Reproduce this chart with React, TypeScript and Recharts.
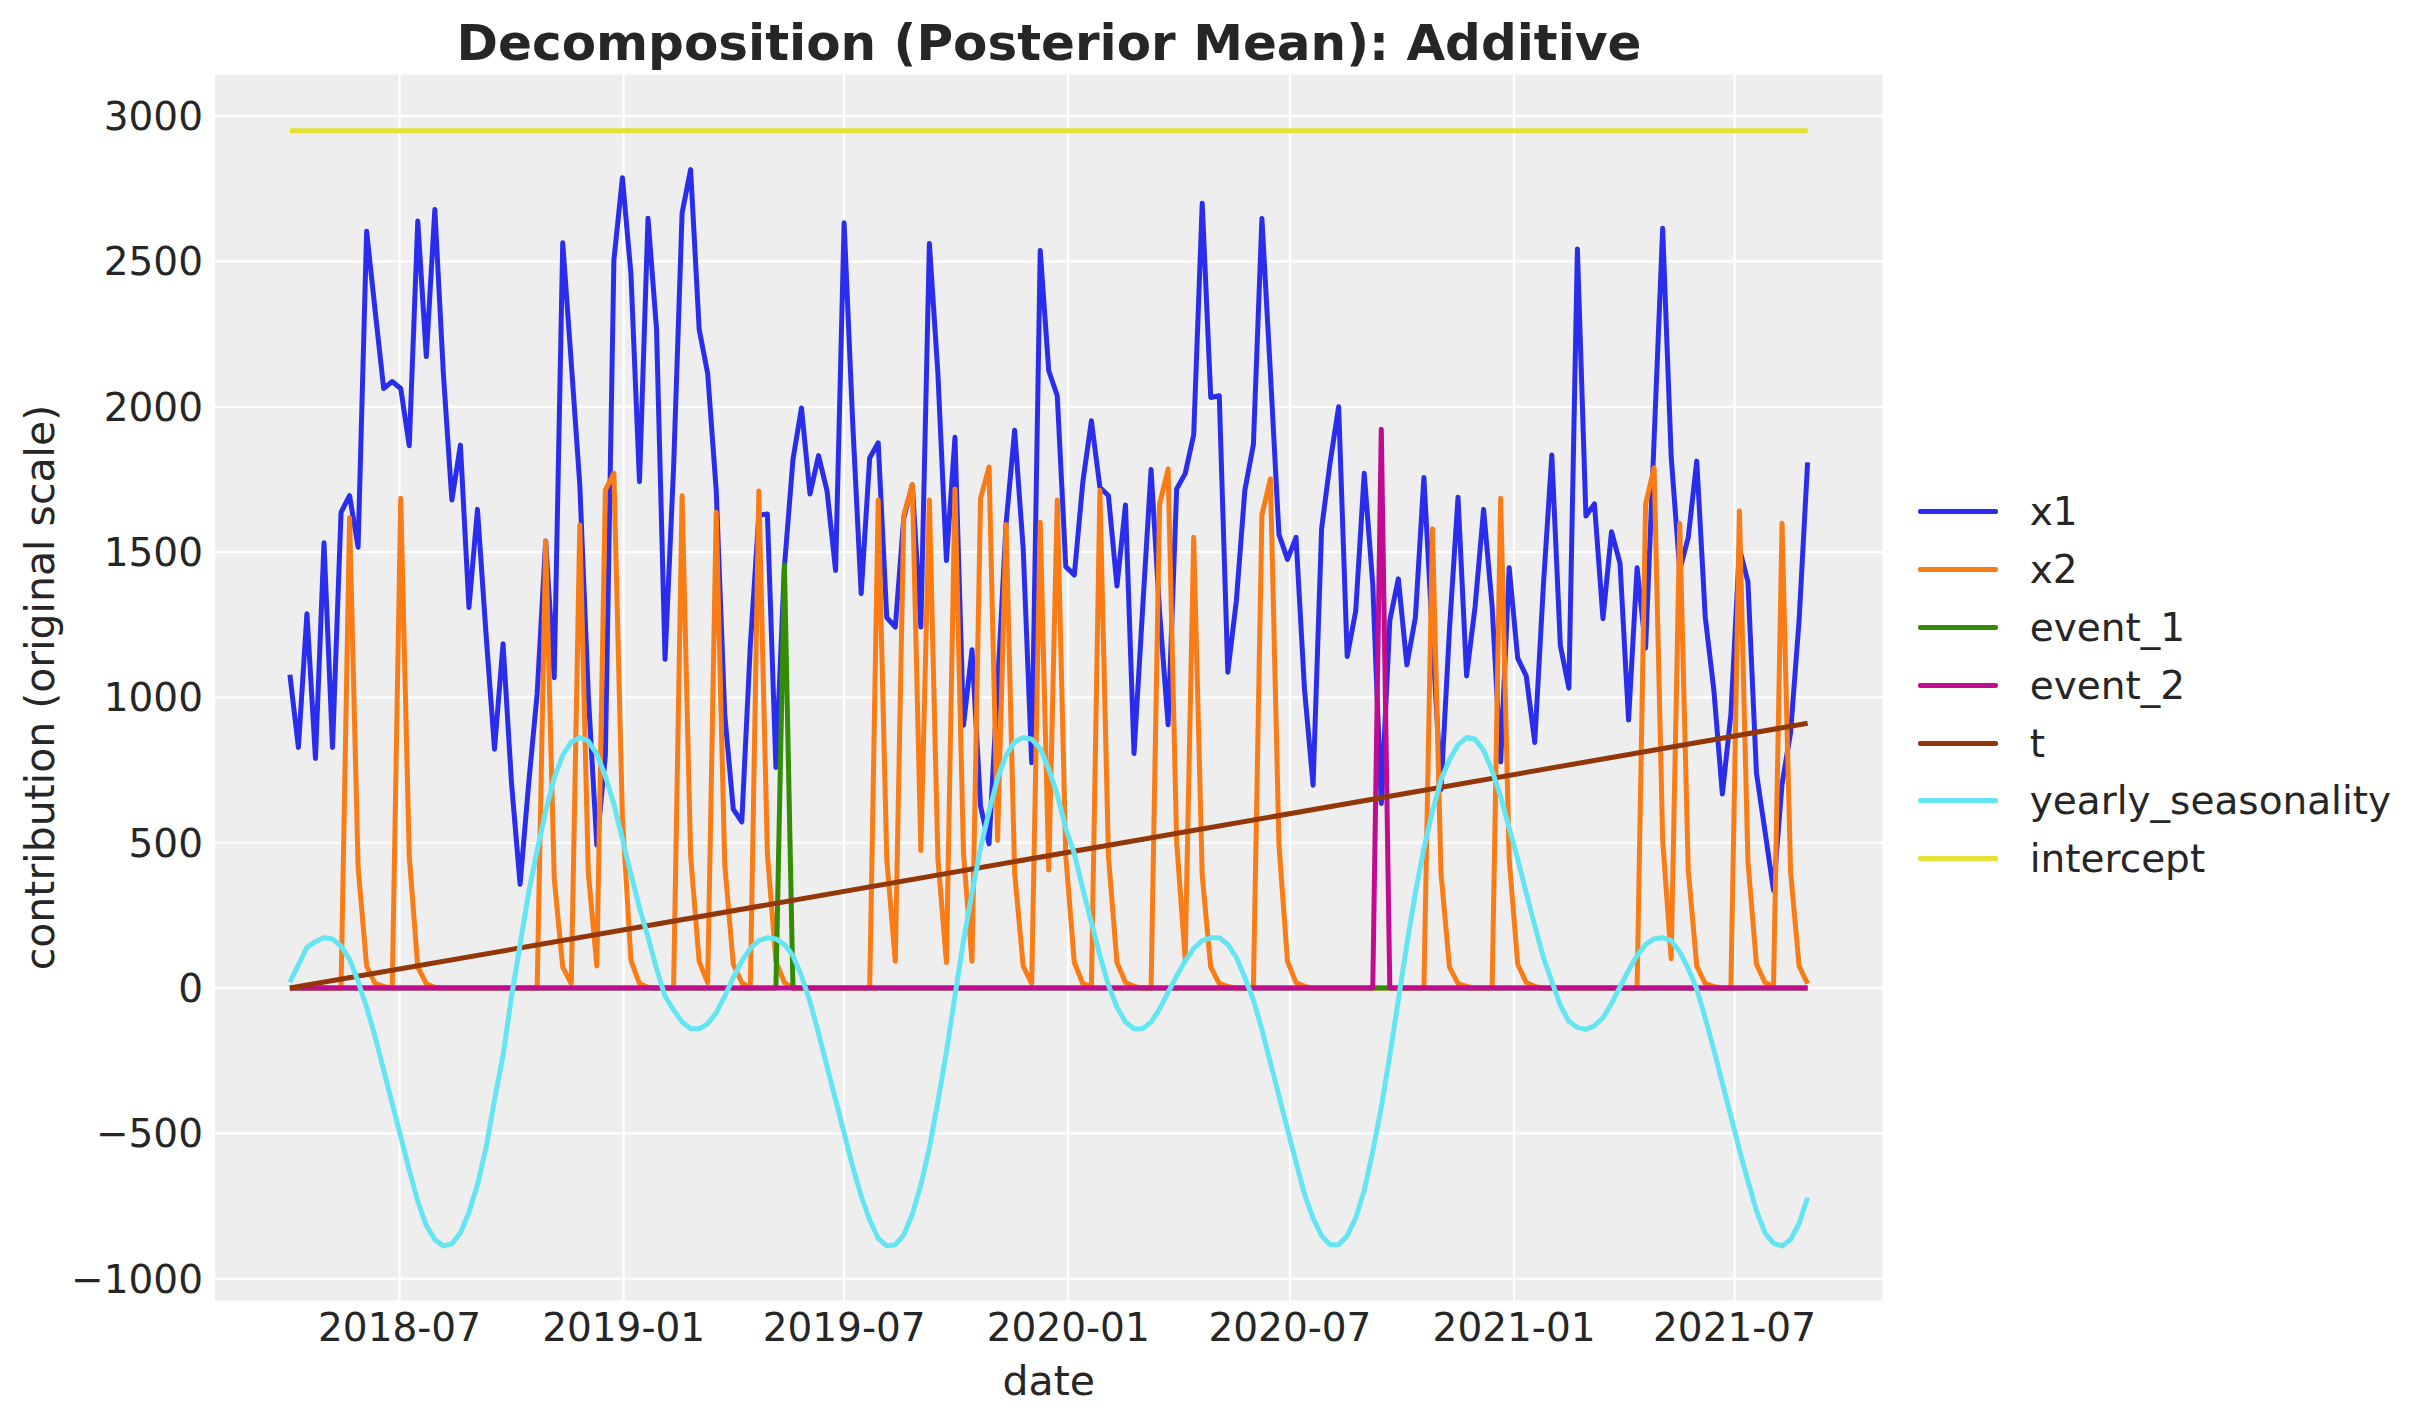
import React from 'react';
import { LineChart, Line, XAxis, YAxis, CartesianGrid, Legend, Label } from 'recharts';

// ---------- data ----------
const START_DATE = '2018-04-02'; // first weekly observation (Mondays)
const WEEK_COUNT = 179;

const x1Values = [
  1078, 828, 1288, 790, 1532, 828, 1637, 1694, 1517, 2604,
  2330, 2063, 2087, 2063, 1866, 2639, 2173, 2679, 2114, 1679,
  1868, 1309, 1647, 1220, 822, 1185, 702, 357, 702, 1013,
  1538, 1068, 2564, 2152, 1732, 1007, 492, 800, 2505, 2788,
  2457, 1742, 2649, 2267, 1131, 1790, 2667, 2816, 2267, 2114,
  1713, 941, 616, 572, 1179, 1627, 1631, 759, 1450, 1818,
  1996, 1700, 1832, 1710, 1437, 2633, 1950, 1357, 1824, 1876,
  1275, 1242, 1618, 1732, 1242, 2562, 2114, 1471, 1895, 904,
  1164, 626, 496, 1040, 1599, 1919, 1513, 775, 2538, 2124,
  2038, 1450, 1421, 1742, 1952, 1723, 1694, 1383, 1662, 807,
  1300, 1784, 1293, 906, 1717, 1770, 1904, 2700, 2032, 2038,
  1087, 1332, 1713, 1870, 2648, 2114, 1561, 1475, 1551, 1026,
  698, 1580, 1809, 2000, 1141, 1297, 1771, 1389, 635, 1265,
  1408, 1112, 1275, 1757, 1210, 683, 1236, 1689, 1074, 1312,
  1647, 1313, 778, 1446, 1135, 1074, 845, 1380, 1834, 1179,
  1032, 2543, 1624, 1666, 1271, 1570, 1461, 922, 1446, 1170,
  1890, 2614, 1828, 1437, 1551, 1813, 1275, 1026, 668, 941,
  1513, 1398, 740, 540, 336, 702, 878, 1265, 1809,
];

const x2Values = [
  0, 0, 0, 0, 0, 0, 0, 1618, 416, 76,
  15, 6, 0, 1685, 454, 72, 15, 3, 0, 0,
  0, 0, 0, 0, 0, 0, 0, 0, 0, 0,
  1538, 378, 72, 15, 1593, 397, 76, 1713, 1771, 588,
  95, 15, 3, 0, 0, 0, 1694, 454, 92, 19,
  1637, 425, 82, 19, 0, 1710, 464, 92, 19, 0,
  0, 0, 0, 0, 0, 0, 0, 0, 0, 1679,
  445, 92, 1627, 1732, 473, 1679, 445, 88, 1717, 464,
  92, 1685, 1793, 508, 1595, 397, 76, 15, 1603, 406,
  1679, 454, 88, 15, 6, 1713, 454, 88, 19, 6,
  0, 0, 1666, 1786, 502, 101, 1551, 387, 72, 15,
  6, 0, 0, 0, 1628, 1752, 492, 92, 19, 6,
  0, 0, 0, 0, 0, 0, 0, 0, 0, 0,
  0, 0, 0, 0, 1580, 397, 72, 15, 6, 0,
  0, 0, 1685, 445, 82, 19, 6, 0, 0, 0,
  0, 0, 0, 0, 0, 0, 0, 0, 0, 1666,
  1790, 511, 101, 1599, 406, 76, 15, 6, 0, 0,
  1641, 435, 82, 19, 6, 1599, 401, 76, 15,
];

const seasonalityValues = [
  20, 80, 140, 160, 173, 169, 144, 99, 23, -66,
  -168, -282, -397, -511, -626, -734, -817, -865, -887, -880,
  -842, -772, -677, -550, -384, -232, -28, 150, 328, 474,
  608, 722, 801, 847, 862, 850, 805, 729, 633, 513,
  392, 277, 176, 67, -28, -75, -117, -140, -140, -123,
  -85, -28, 36, 93, 137, 163, 173, 169, 150, 112,
  42, -47, -155, -270, -384, -499, -613, -715, -798, -861,
  -887, -883, -849, -778, -677, -550, -390, -219, -28, 163,
  328, 481, 608, 722, 801, 847, 862, 856, 824, 754,
  665, 551, 462, 341, 226, 112, 10, -66, -117, -140,
  -140, -117, -72, -15, 42, 93, 137, 163, 173, 173,
  150, 106, 36, -41, -142, -257, -371, -486, -600, -709,
  -791, -852, -883, -883, -852, -791, -696, -562, -410, -232,
  -41, 150, 328, 481, 608, 716, 786, 837, 862, 856,
  818, 748, 659, 551, 443, 328, 214, 106, 23, -60,
  -114, -136, -142, -130, -102, -53, 4, 61, 112, 150,
  169, 173, 163, 125, 67, -3, -104, -212, -327, -441,
  -556, -664, -766, -842, -878, -887, -865, -810, -721,
];

// sparse series: [week index, value]
const event1Points: [number, number][] = [[0, 0], [57, 0], [58, 1456], [59, 0], [178, 0]];
const event2Points: [number, number][] = [[0, 0], [127, 0], [128, 1923], [129, 0], [178, 0]];
const trendPoints: [number, number][] = [[0, 0], [178, 911]];
const interceptPoints: [number, number][] = [[0, 2950], [178, 2950]];

const seriesOrder = ['x1', 'x2', 'event_1', 'event_2', 't', 'yearly_seasonality', 'intercept'];
const xTickDates = ['2018-07-01', '2019-01-01', '2019-07-01', '2020-01-01', '2020-07-01', '2021-01-01', '2021-07-01'];
const yTicks = [-1000, -500, 0, 500, 1000, 1500, 2000, 2500, 3000];
const yDomain: [number, number] = [-1079, 3147];

// ---------- styles ----------
const FONT = '"DejaVu Sans", sans-serif';
const TEXT = '#262626';
const LINE_W = 5;
const COLORS: Record<string, string> = {
  x1: '#2a2eec',
  x2: '#fa7c17',
  event_1: '#328c06',
  event_2: '#c10c90',
  t: '#933708',
  yearly_seasonality: '#65e5f3',
  intercept: '#e6e135',
};

const WEEK_MS = 7 * 86400000;
const startMs = Date.parse(START_DATE);
const dateOf = (week: number) => startMs + week * WEEK_MS;

const weeklyRows = x1Values.slice(0, WEEK_COUNT).map((v, i) => ({
  date: dateOf(i),
  x1: v,
  x2: x2Values[i],
  yearly_seasonality: seasonalityValues[i],
}));
const toRows = (pts: [number, number][]) => pts.map(([w, v]) => ({ date: dateOf(w), value: v }));

const firstMs = dateOf(0);
const lastMs = dateOf(WEEK_COUNT - 1);
const span = lastMs - firstMs;
const xDomain: [number, number] = [firstMs - 0.05 * span, lastMs + 0.05 * span];
const xTicks = xTickDates.map((d) => Date.parse(d));

const fmtDate = (ms: number) => new Date(ms).toISOString().slice(0, 7);
const fmtY = (v: number) => (v < 0 ? '\u2212' + Math.abs(v) : String(v));

const renderLegend = (props: any) => {
  const payload = [...(props.payload || [])].sort(
    (a: any, b: any) => seriesOrder.indexOf(a.value) - seriesOrder.indexOf(b.value)
  );
  return (
    <div style={{ fontFamily: FONT }}>
      {payload.map((entry: any) => (
        <div key={entry.value} style={{ height: 57.8, display: 'flex', alignItems: 'center' }}>
          <div style={{ width: 80.7, height: LINE_W, background: COLORS[entry.value] || entry.color, borderRadius: 2 }} />
          <span style={{ marginLeft: 31.4, fontSize: 39, lineHeight: '39px', color: TEXT, whiteSpace: 'nowrap' }}>
            {entry.value}
          </span>
        </div>
      ))}
    </div>
  );
};

const XLabel = (props: any) => {
  const vb = props.viewBox || {};
  return (
    <text x={vb.x + vb.width / 2} y={vb.y + 93} textAnchor="middle" fontFamily={FONT} fontSize={41} fill={TEXT}>
      date
    </text>
  );
};

const YLabel = (props: any) => {
  const vb = props.viewBox || {};
  const cy = vb.y + vb.height / 2;
  const cx = 54;
  return (
    <text
      x={cx}
      y={cy}
      textAnchor="middle"
      fontFamily={FONT}
      fontSize={41}
      fill={TEXT}
      transform={`rotate(-90 ${cx} ${cy})`}
    >
      contribution (original scale)
    </text>
  );
};

const lineCommon = {
  type: 'linear' as const,
  dot: false,
  activeDot: false,
  isAnimationActive: false,
  strokeWidth: LINE_W,
  strokeLinejoin: 'round' as const,
  dataKey: 'value',
};

export default function App() {
  return (
    <div style={{ position: 'absolute', left: 0, top: 0, width: 2423, height: 1423, background: '#ffffff' }}>
      <svg width={2423} height={80} style={{ position: 'absolute', left: 0, top: 0 }}>
        <text x={1049} y={60} textAnchor="middle" fontFamily={FONT} fontWeight="bold" fontSize={50} fill={TEXT}>
          Decomposition (Posterior Mean): Additive
        </text>
      </svg>
      <div style={{ position: 'absolute', left: 0, top: 0 }}>
        <LineChart width={2423} height={1423} margin={{ top: 73.4, right: 539.5, bottom: 61.3, left: 14 }}>
          <CartesianGrid fill="#eeeeee" stroke="#ffffff" strokeWidth={2.2} />
          <XAxis
            dataKey="date"
            type="number"
            domain={xDomain}
            allowDataOverflow
            ticks={xTicks}
            tickFormatter={fmtDate}
            axisLine={false}
            tickLine={false}
            tickSize={0}
            tickMargin={12}
            height={60}
            tick={{ fontFamily: FONT, fontSize: 39, fill: TEXT }}
          >
            <Label content={XLabel} />
          </XAxis>
          <YAxis
            type="number"
            domain={yDomain}
            allowDataOverflow
            ticks={yTicks}
            tickFormatter={fmtY}
            axisLine={false}
            tickLine={false}
            tickSize={0}
            tickMargin={11}
            width={200}
            tick={{ fontFamily: FONT, fontSize: 39, fill: TEXT }}
          >
            <Label content={YLabel} />
          </YAxis>
          <Line {...lineCommon} data={weeklyRows} dataKey="x1" name="x1" stroke={COLORS.x1} />
          <Line {...lineCommon} data={weeklyRows} dataKey="x2" name="x2" stroke={COLORS.x2} />
          <Line {...lineCommon} data={toRows(event1Points)} name="event_1" stroke={COLORS.event_1} />
          <Line {...lineCommon} data={toRows(event2Points)} name="event_2" stroke={COLORS.event_2} />
          <Line {...lineCommon} data={toRows(trendPoints)} name="t" stroke={COLORS.t} />
          <Line
            {...lineCommon}
            data={weeklyRows}
            dataKey="yearly_seasonality"
            name="yearly_seasonality"
            stroke={COLORS.yearly_seasonality}
          />
          <Line {...lineCommon} data={toRows(interceptPoints)} name="intercept" stroke={COLORS.intercept} />
          <Legend
            layout="vertical"
            align="center"
            verticalAlign="middle"
            content={renderLegend}
            wrapperStyle={{ left: 1917.6, top: 483.1, width: 500, height: 7 * 57.8 }}
          />
        </LineChart>
      </div>
    </div>
  );
}
